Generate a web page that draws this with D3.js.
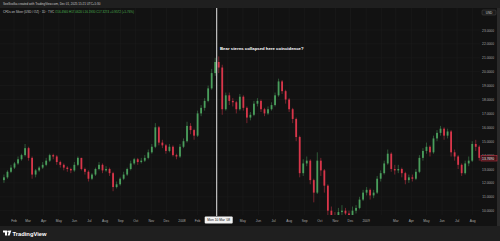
<!DOCTYPE html>
<html>
<head>
<meta charset="utf-8">
<script src="https://cdn.jsdelivr.net/npm/d3@7"></script>
<style>
  html, body { margin: 0; padding: 0; background: #121212; }
  svg { display: block; font-family: "Liberation Sans", Arial, sans-serif; }
</style>
</head>
<body>
<div id="chart"></div>
<script>
// Silver CFD, weekly bars (first week ends Fri 12 Jan 2007)
const firstWeek = "2007-01-12";
const firstOpen = 12.2;
const closes = [
  12.4, 12.8, 13.1, 13.4, 13.7, 14.0, 14.5, 13.8, 12.6, 12.9,
  13.1, 13.3, 13.6, 14.0, 13.9, 13.5, 13.3, 13.1, 13.0, 12.9,
  13.3, 13.8, 13.0, 12.8, 12.3, 12.6, 13.0, 13.3, 12.9, 13.0,
  12.7, 11.7, 11.9, 12.3, 12.6, 13.0, 13.4, 13.7, 13.5, 13.6,
  13.8, 14.2, 14.6, 16.0, 14.9, 14.7, 14.3, 14.6, 14.0, 13.9,
  14.6, 15.0, 16.1, 15.8, 15.4, 17.0, 17.4, 17.9, 18.8, 19.9,
  20.7, 20.3, 17.3, 18.3, 17.9, 17.8, 17.3, 18.2, 17.4, 16.7,
  16.9, 17.7, 17.9, 17.3, 17.0, 17.3, 17.6, 18.3, 19.3, 18.6,
  18.0, 17.3, 16.6, 15.3, 12.7, 13.4, 13.6, 12.2, 11.3, 13.6,
  12.9, 11.8, 10.0, 9.6, 9.2, 9.9, 10.0, 9.8, 9.6, 10.0,
  10.2, 10.8, 11.3, 11.5, 11.1, 11.3, 12.3, 12.7, 13.4, 14.1,
  13.0, 12.9, 13.0, 12.7, 12.2, 12.4, 12.3, 12.8, 13.8, 14.3,
  14.6, 14.2, 15.2, 15.6, 15.9, 15.4, 15.7, 14.2, 13.9, 13.3,
  12.7, 13.4, 13.6, 14.8, 14.6, 13.8
];
const highs = [
  12.6, 12.9, 13.3, 13.5, 13.9, 14.1, 14.8, 14.6, 13.9, 13.0,
  13.2, 13.5, 13.8, 14.1, 14.1, 14.0, 13.6, 13.4, 13.2, 13.1,
  13.5, 13.9, 13.8, 13.1, 12.9, 12.7, 13.1, 13.5, 13.4, 13.2,
  13.1, 12.8, 12.1, 12.4, 12.8, 13.1, 13.6, 13.8, 13.8, 13.8,
  14.0, 14.4, 14.8, 16.3, 16.1, 15.1, 14.8, 14.8, 14.7, 14.1,
  14.8, 15.2, 16.4, 16.3, 15.9, 17.2, 17.6, 18.1, 19.0, 20.2,
  21.0, 21.1, 20.5, 18.5, 18.5, 18.1, 17.9, 18.4, 18.3, 17.5,
  17.1, 17.9, 18.1, 18.0, 17.4, 17.5, 17.8, 18.5, 19.5, 19.4,
  18.7, 18.1, 17.4, 16.7, 15.4, 13.7, 13.9, 13.7, 12.3, 14.2,
  13.8, 13.0, 11.9, 10.3, 9.9, 10.2, 10.4, 10.2, 10.0, 10.3,
  10.4, 11.0, 11.5, 11.7, 11.6, 11.5, 12.5, 12.9, 13.6, 14.4,
  14.2, 13.3, 13.3, 13.1, 12.8, 12.6, 12.6, 13.0, 14.0, 14.5,
  14.9, 14.7, 15.4, 15.8, 16.1, 16.0, 15.9, 15.8, 14.4, 14.0,
  13.4, 13.6, 13.9, 15.0, 15.1, 14.7
];
const lows = [
  12.0, 12.3, 12.7, 13.0, 13.3, 13.6, 13.9, 13.6, 12.3, 12.4,
  12.8, 13.0, 13.2, 13.5, 13.7, 13.3, 13.1, 12.9, 12.8, 12.7,
  12.8, 13.2, 12.9, 12.6, 12.1, 12.2, 12.5, 12.9, 12.7, 12.8,
  12.5, 11.4, 11.6, 11.8, 12.2, 12.5, 12.9, 13.3, 13.3, 13.4,
  13.5, 13.7, 14.1, 14.5, 14.7, 14.5, 14.1, 14.2, 13.9, 13.7,
  13.8, 14.5, 14.9, 15.5, 15.1, 15.3, 16.8, 17.2, 17.8, 18.7,
  19.7, 19.9, 16.9, 17.2, 17.6, 17.5, 17.0, 17.2, 17.2, 16.3,
  16.5, 16.8, 17.5, 17.1, 16.8, 16.9, 17.2, 17.5, 18.2, 18.4,
  17.7, 17.1, 16.3, 15.0, 12.4, 12.5, 13.2, 11.9, 10.6, 11.2,
  12.5, 11.3, 9.5, 9.0, 8.8, 9.0, 9.6, 9.5, 9.3, 9.4,
  9.8, 10.1, 10.7, 11.1, 10.8, 10.9, 11.2, 12.1, 12.6, 13.3,
  12.8, 12.6, 12.7, 12.4, 11.9, 12.0, 12.1, 12.2, 12.7, 13.6,
  14.1, 13.9, 14.1, 15.0, 15.4, 15.1, 15.2, 13.9, 13.6, 13.0,
  12.5, 12.6, 13.2, 13.5, 14.3, 13.6
];

const priceTicks = [10, 11, 12, 13, 14, 15, 16, 17, 18, 19, 20, 21, 22, 23];
const gridMonths = [
  "2007-02-01","2007-03-01","2007-04-01","2007-05-01","2007-06-01","2007-07-01",
  "2007-08-01","2007-09-01","2007-10-01","2007-11-01","2007-12-01","2008-01-01",
  "2008-02-01","2008-03-01","2008-04-01","2008-05-01","2008-06-01","2008-07-01",
  "2008-08-01","2008-09-01","2008-10-01","2008-11-01","2008-12-01","2009-01-01",
  "2009-02-01","2009-03-01","2009-04-01","2009-05-01","2009-06-01","2009-07-01","2009-08-01"
];
// labels shown on the time axis (Mar/Apr 2008 sit under the crosshair box)
const timeLabels = [
  ["2007-02-01","Feb"],["2007-03-01","Mar"],["2007-04-01","Apr"],["2007-05-01","May"],
  ["2007-06-01","Jun"],["2007-07-01","Jul"],["2007-08-01","Aug"],["2007-09-01","Sep"],
  ["2007-10-01","Oct"],["2007-11-01","Nov"],["2007-12-01","Dec"],["2008-01-01","2008"],
  ["2008-02-01","Feb"],["2008-05-01","May"],["2008-06-01","Jun"],["2008-07-01","Jul"],
  ["2008-08-01","Aug"],["2008-09-01","Sep"],["2008-10-01","Oct"],["2008-11-01","Nov"],
  ["2008-12-01","Dec"],["2009-01-01","2009"],["2009-03-01","Mar"],["2009-04-01","Apr"],
  ["2009-05-01","May"],["2009-06-01","Jun"],["2009-07-01","Jul"],["2009-08-01","Aug"]
];
const crossDate = "2008-03-10";
const crossLabel = "Mon 10 Mar '08";
const lastPrice = 13.7690;
const note = "Bear sterns collapsed here coincidence?";
const headerText = "SeeSvolka created with TradingView.com, Dec 01, 2025 15:21 UTC+5:30";
const symbolText = "CFDs on Silver (USD / OZ) \u00b7 1D \u00b7 TVC";
const ohlcText = "O16.4940 H17.0620 L16.1930 C17.3274 +0.9572 (+5.76%)";

const width = 500, height = 241;
const plot = { left: 0, right: 480, top: 8, bottom: 215 };
const upColor = "#4a9e5c", downColor = "#d9364a";
const parse = d3.timeParse("%Y-%m-%d");

const svg = d3.select("#chart").append("svg")
  .attr("width", width).attr("height", height);

// backgrounds
svg.append("rect").attr("width", width).attr("height", height).attr("fill", "#121212");
svg.append("rect").attr("width", width).attr("height", plot.top).attr("fill", "#1f1f1f");
svg.append("rect").attr("y", 226).attr("width", width).attr("height", height - 226).attr("fill", "#1f1f1f");
svg.append("rect").attr("x", 497).attr("y", plot.top).attr("width", 3).attr("height", 218).attr("fill", "#2a2a2a");

// scales: 0.503 px per calendar day, 13.9 px per dollar
const x = d3.scaleTime()
  .domain([new Date(2007, 0, 1), new Date(2009, 0, 1)])
  .range([182 - 365 * 0.503, 182 + 366 * 0.503]);
const y = d3.scaleLinear().domain([10, 23]).range([210.7, 30]);

const data = closes.map((c, i) => ({
  date: d3.timeDay.offset(parse(firstWeek), 7 * i),
  open: i === 0 ? firstOpen : closes[i - 1],
  high: highs[i], low: lows[i], close: c
}));
const col = d => d.close >= d.open ? upColor : downColor;

// grid
const grid = svg.append("g");
grid.selectAll(".vg").data(gridMonths).join("line")
  .attr("x1", d => x(parse(d))).attr("x2", d => x(parse(d)))
  .attr("y1", plot.top).attr("y2", plot.bottom)
  .attr("stroke", "#1c1c1c").attr("stroke-width", 0.6);
grid.selectAll(".hg").data(priceTicks).join("line")
  .attr("x1", plot.left).attr("x2", plot.right)
  .attr("y1", d => y(d)).attr("y2", d => y(d))
  .attr("stroke", "#1c1c1c").attr("stroke-width", 0.6);

// candles
svg.append("clipPath").attr("id", "clip").append("rect")
  .attr("x", plot.left).attr("y", plot.top)
  .attr("width", plot.right - plot.left).attr("height", plot.bottom - plot.top);
const candles = svg.append("g").attr("clip-path", "url(#clip)");
candles.selectAll("line").data(data).join("line")
  .attr("x1", d => x(d.date)).attr("x2", d => x(d.date))
  .attr("y1", d => y(d.high)).attr("y2", d => y(d.low))
  .attr("stroke", col).attr("stroke-width", 0.5);
candles.selectAll("rect").data(data).join("rect")
  .attr("x", d => x(d.date) - 0.9)
  .attr("width", 1.8)
  .attr("y", d => y(Math.max(d.open, d.close)))
  .attr("height", d => Math.max(0.8, Math.abs(y(d.open) - y(d.close))))
  .attr("fill", col);

// price axis
const yAxis = d3.axisRight(y).tickValues(priceTicks).tickSize(0).tickFormat(d3.format(".4f"));
const yAxisG = svg.append("g").attr("transform", "translate(494,0)").call(yAxis);
yAxisG.select(".domain").remove();
yAxisG.selectAll("text")
  .attr("x", 0).attr("text-anchor", "end")
  .attr("fill", "#a9a9a9").style("font-size", "3.3px");

// currency box
svg.append("rect").attr("x", 482).attr("y", 10).attr("width", 14).attr("height", 5)
  .attr("rx", 1).attr("fill", "#1b1b1b").attr("stroke", "#555").attr("stroke-width", 0.4);
svg.append("text").attr("x", 489).attr("y", 13.6).attr("text-anchor", "middle")
  .attr("fill", "#ccc").style("font-size", "3.2px").text("USD");

// last price line + label
const last = data[data.length - 1];
svg.append("line")
  .attr("x1", x(last.date) + 1.5).attr("x2", 481)
  .attr("y1", y(lastPrice)).attr("y2", y(lastPrice))
  .attr("stroke", downColor).attr("stroke-width", 0.4).attr("stroke-dasharray", "1,1");
svg.append("rect").attr("x", 481).attr("y", y(lastPrice) - 2.7).attr("width", 16).attr("height", 5.4)
  .attr("fill", "#3a1418").attr("stroke", downColor).attr("stroke-width", 0.5);
svg.append("text").attr("x", 494).attr("y", y(lastPrice) + 1.2).attr("text-anchor", "end")
  .attr("fill", "#eee").style("font-size", "3.3px").text(d3.format(".4f")(lastPrice));

// time axis labels
svg.append("g").selectAll("text").data(timeLabels).join("text")
  .attr("x", d => x(parse(d[0])))
  .attr("y", 221.5)
  .attr("text-anchor", "middle")
  .attr("fill", "#a9a9a9").style("font-size", "3.3px")
  .text(d => d[1]);

// crosshair
const cx = x(parse(crossDate));
svg.append("line").attr("x1", cx).attr("x2", cx).attr("y1", plot.top).attr("y2", plot.bottom + 1)
  .attr("stroke", "#e6e6e6").attr("stroke-width", 1);
svg.append("rect").attr("x", cx - 12).attr("y", 216.5).attr("width", 28).attr("height", 7)
  .attr("rx", 1).attr("fill", "#f2f2f2");
svg.append("text").attr("x", cx + 2).attr("y", 221.3).attr("text-anchor", "middle")
  .attr("fill", "#131313").style("font-size", "3.3px").text(crossLabel);

// annotation
svg.append("text").attr("x", 220).attr("y", 50)
  .attr("fill", "#ffffff").attr("font-weight", 700).style("font-size", "4.3px")
  .text(note);

// header + legend
svg.append("text").attr("x", 3).attr("y", 5.2)
  .attr("fill", "#c8c8c8").style("font-size", "3px").text(headerText);
const legend = svg.append("text").attr("x", 3).attr("y", 13).style("font-size", "3px");
legend.append("tspan").attr("fill", "#c8c8c8").text(symbolText + " ");
legend.append("tspan").attr("fill", "#4caf50").text(ohlcText);

// TradingView footer logo
const logo = svg.append("g").attr("transform", "translate(3,230.5)");
logo.append("path").attr("d", "M0,0 H4 V5 H2 V2 H0 Z").attr("fill", "#fff");
logo.append("circle").attr("cx", 5.2).attr("cy", 1).attr("r", 0.9).attr("fill", "#fff");
logo.append("path").attr("d", "M6.3,0 H8.3 L6.6,5 H4.6 Z").attr("fill", "#fff");
svg.append("text").attr("x", 12.5).attr("y", 235.5)
  .attr("fill", "#ffffff").attr("font-weight", 700).style("font-size", "5.8px")
  .text("TradingView");
</script>
</body>
</html>
